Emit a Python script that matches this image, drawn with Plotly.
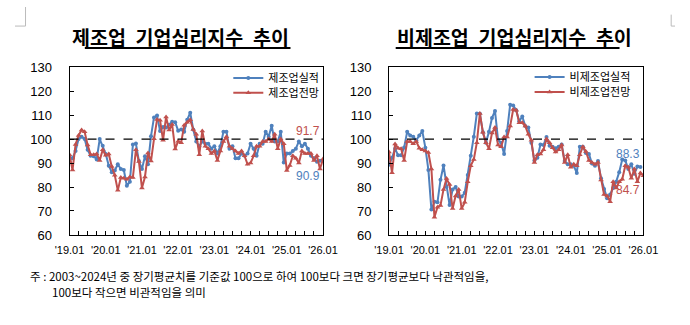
import plotly.graph_objects as go

# ---------------- data ----------------
tick_labels = ["'19.01", "'20.01", "'21.01", "'22.01", "'23.01", "'24.01", "'25.01", "'26.01"]
tick_months = [0, 12, 24, 36, 48, 60, 72, 84]   # month index (0 = 2019.01)

mfg_actual = [92.4, 92.0, 95.0, 100.0, 101.0, 100.0, 95.5, 93.0, 92.8, 91.5, 100.0, 97.2,
              93.8, 88.9, 86.2, 86.9, 89.5, 87.5, 87.1, 80.5, 82.2, 97.7, 98.1, 90.8,
              87.5, 92.8, 89.5, 101.2, 109.0, 109.8, 103.4, 105.0, 104.8, 106.0, 107.2, 107.0,
              103.5, 104.0, 103.0, 108.0, 111.0, 104.0, 99.0, 97.0, 99.0, 98.0, 98.0, 96.0,
              97.0, 94.0, 97.0, 103.0, 103.0, 96.0, 97.0, 92.0, 92.0, 94.0, 93.0, 94.0,
              98.0, 96.0, 93.0, 98.0, 98.0, 103.0, 101.0, 105.5, 99.0, 99.0, 103.0, 90.2,
              94.0, 94.0, 95.0, 96.0, 99.0, 97.0, 98.0, 96.0, 93.0, 92.0, 90.5, 90.9]
mfg_outlook = [93.5, 87.1, 97.7, 101.5, 103.8, 103.0, 97.5, 93.5, 93.5, 93.8, 91.1, 95.5,
               93.2, 93.8, 88.5, 84.9, 78.6, 84.0, 83.6, 83.2, 84.2, 84.0, 95.5, 90.6,
               79.6, 84.2, 94.2, 90.8, 100.1, 108.1, 107.8, 99.5, 109.2, 103.8, 106.1, 95.8,
               99.1, 98.5, 105.7, 107.0, 108.0, 104.0, 102.0, 93.5, 103.4, 97.0, 96.0, 94.0,
               95.0, 91.1, 95.0, 99.0, 101.0, 97.0, 96.0, 95.0, 94.0, 95.0, 93.0, 89.5,
               90.0, 93.0, 97.0, 97.0, 99.0, 99.0, 100.0, 99.0, 102.0, 96.0, 100.0, 98.0,
               86.9, 89.0, 93.0, 92.0, 90.0, 95.0, 94.0, 94.0, 94.0, 91.0, 93.0, 87.5, 91.7]
nonmfg_actual = [89.3, 92.2, 96.0, 93.2, 93.2, 96.5, 103.0, 101.5, 101.0, 99.5, 101.5, 103.3,
                 96.4, 87.1, 70.6, 73.8, 73.6, 83.0, 89.0, 80.0, 72.5, 79.0, 80.0, 76.0,
                 76.0, 77.6, 85.0, 93.0, 101.0, 110.7, 110.5, 102.8, 98.5, 103.0, 108.8, 111.7,
                 99.7, 98.5, 93.8, 103.4, 114.3, 114.0, 112.0, 107.4, 109.4, 105.4, 104.8, 98.5,
                 91.0, 92.2, 97.7, 97.5, 100.8, 97.2, 96.8, 96.2, 96.8, 97.7, 90.8, 89.5,
                 89.5, 88.9, 85.8, 96.8, 96.8, 94.2, 93.8, 89.8, 88.9, 90.8, 83.6, 79.2,
                 75.3, 76.9, 79.6, 82.2, 86.2, 91.5, 91.1, 87.5, 89.5, 85.5, 88.5, 88.3]
nonmfg_outlook = [94.6, 85.9, 97.9, 96.2, 96.0, 91.1, 99.0, 99.0, 98.0, 99.0, 96.2, 95.5,
                  95.0, 94.4, 87.5, 67.4, 71.6, 72.3, 79.0, 83.5, 81.0, 71.0, 76.3, 79.0,
                  71.0, 73.6, 82.2, 88.9, 91.5, 98.5, 110.7, 102.8, 98.5, 96.0, 102.5, 104.8,
                  97.5, 96.8, 100.8, 100.8, 105.4, 112.3, 112.0, 106.8, 106.8, 105.4, 102.0, 99.5,
                  90.2, 93.5, 93.8, 95.5, 100.0, 98.5, 96.4, 94.6, 95.5, 97.5, 90.2, 93.5,
                  88.2, 89.5, 88.9, 93.5, 96.8, 94.8, 91.1, 90.2, 89.5, 90.2, 82.9, 76.9,
                  76.3, 73.9, 82.2, 79.6, 82.2, 83.2, 88.9, 88.2, 83.6, 87.5, 82.2, 85.8, 84.7]

BLUE = "#4F81BD"
RED = "#C0504D"
W, H = 690, 325
KR = "Noto Sans CJK KR"
NUM = "Liberation Sans, Noto Sans CJK KR"


def px_x(p):
    return p / W


def px_y(p):
    return 1 - p / H


fig = go.Figure()

panels = [
    dict(xa="x", ya="y", actual=mfg_actual, outlook=mfg_outlook,
         names=("제조업실적", "제조업전망"), legends=("legend", "legend2")),
    dict(xa="x2", ya="y2", actual=nonmfg_actual, outlook=nonmfg_outlook,
         names=("비제조업실적", "비제조업전망"), legends=("legend3", "legend4")),
]

for p in panels:
    fig.add_trace(go.Scatter(
        x=list(range(len(p["actual"]))), y=p["actual"], name=p["names"][0],
        xaxis=p["xa"], yaxis=p["ya"], mode="lines+markers",
        line=dict(color=BLUE, width=2), marker=dict(symbol="circle", size=4, color=BLUE),
        legend=p["legends"][0]))
    fig.add_trace(go.Scatter(
        x=list(range(len(p["outlook"]))), y=p["outlook"], name=p["names"][1],
        xaxis=p["xa"], yaxis=p["ya"], mode="lines+markers",
        line=dict(color=RED, width=2), marker=dict(symbol="triangle-up", size=5, color=RED),
        legend=p["legends"][1]))

xdoms = [(px_x(57), px_x(322)), (px_x(391), px_x(657))]
ydom = (px_y(239), px_y(63))

axis_common_x = dict(
    range=[0, 84], tickmode="array", tickvals=tick_months, ticktext=tick_labels,
    ticks="inside", ticklen=4, tickcolor="black", showline=True, linecolor="black",
    linewidth=1, mirror=True, showgrid=False, zeroline=False,
    tickfont=dict(family=NUM, size=11, color="black"), ticklabelstandoff=5,
    minor=dict(dtick=3, tick0=0, ticks="inside", ticklen=4, tickcolor="black", showgrid=False),
)
axis_common_y = dict(
    range=[60, 130], dtick=10, ticks="inside", ticklen=4, tickcolor="black",
    showline=True, linecolor="black", linewidth=1, mirror=True, showgrid=False,
    zeroline=False, tickfont=dict(family=NUM, size=13, color="black"),
    ticklabelstandoff=14,
)

fig.update_layout(
    width=W, height=H, margin=dict(l=0, r=0, t=0, b=0),
    paper_bgcolor="white", plot_bgcolor="white",
    xaxis=dict(domain=xdoms[0], anchor="y", **axis_common_x),
    yaxis=dict(domain=ydom, anchor="x", **axis_common_y),
    xaxis2=dict(domain=xdoms[1], anchor="y2", **axis_common_x),
    yaxis2=dict(domain=ydom, anchor="x2", **axis_common_y),
    showlegend=True,
)

leg_common = dict(bgcolor="rgba(0,0,0,0)", borderwidth=0, itemwidth=30,
                  font=dict(family=KR, size=11, color="black"),
                  xanchor="left", yanchor="middle", tracegroupgap=0)
fig.update_layout(
    legend=dict(x=px_x(263 - 40), y=px_y(74.5), **leg_common),
    legend2=dict(x=px_x(263 - 40), y=px_y(90), **leg_common),
    legend3=dict(x=px_x(578 - 40), y=px_y(73.5), **leg_common),
    legend4=dict(x=px_x(578 - 40), y=px_y(89), **leg_common),
)

# 100 reference lines
for ya, xa in (("y", "x"), ("y2", "x2")):
    fig.add_shape(type="line", xref=f"{xa} domain", x0=0, x1=1, yref=ya, y0=100, y1=100,
                  line=dict(color="black", width=1.3, dash="dash"))

# end value labels
end_labels = [
    ("x", "y", "91.7", 103.3, RED), ("x", "y", "90.9", 84.7, BLUE),
    ("x2", "y2", "88.3", 93.8, BLUE), ("x2", "y2", "84.7", 78.7, RED),
]
for xa, ya, txt, yv, col in end_labels:
    fig.add_annotation(x=84, y=yv, xref=xa, yref=ya, text=txt, showarrow=False,
                       xanchor="right", yanchor="middle", xshift=-1,
                       font=dict(family=NUM, size=12, color=col))

# titles
titles = [("제조업\u2002기업심리지수\u2002추이", 58, 73, 288),
          ("비제조업\u2002기업심리지수\u2002추이", 397, 398, 632)]
for txt, lx, ux0, ux1 in titles:
    fig.add_annotation(x=px_x(lx), y=px_y(31), xref="paper", yref="paper",
                       text=f"<b>{txt}</b>", showarrow=False, xanchor="left",
                       yanchor="middle", font=dict(family=KR, size=19.5, color="black"))
    fig.add_shape(type="line", xref="paper", yref="paper", x0=px_x(ux0), x1=px_x(ux1),
                  y0=px_y(43), y1=px_y(43), line=dict(color="black", width=2))

# footnote
fig.add_annotation(x=px_x(14), y=px_y(282), xref="paper", yref="paper",
                   text="주 : 2003~2024년 중 장기평균치를 기준값 100으로 하여 100보다 크면 장기평균보다 낙관적임을,",
                   showarrow=False, xanchor="left", yanchor="middle",
                   font=dict(family=KR, size=11.5, color="black"))
fig.add_annotation(x=px_x(37), y=px_y(299), xref="paper", yref="paper",
                   text="100보다 작으면 비관적임을 의미",
                   showarrow=False, xanchor="left", yanchor="middle",
                   font=dict(family=KR, size=11.5, color="black"))

# page corner marks
for x0, y0, x1, y1 in ((11, 0, 11, 20), (0, 20, 11, 20), (686, 8, 686, 20), (686, 20, 690, 20)):
    fig.add_shape(type="line", xref="paper", yref="paper", x0=px_x(x0), x1=px_x(x1),
                  y0=px_y(y0), y1=px_y(y1), line=dict(color="#BBBBBB", width=1))

fig.write_html("out.html")
